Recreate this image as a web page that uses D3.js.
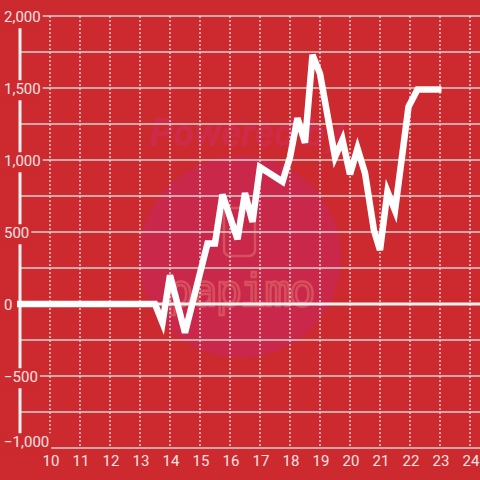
<!DOCTYPE html>
<html>
<head>
<meta charset="utf-8">
<script src="https://cdn.jsdelivr.net/npm/d3@7"></script>
<style>
  body { margin: 0; background: #cc2a2f; }
  svg text { font-family: Roboto, "Liberation Sans", sans-serif; }
</style>
</head>
<body>
<svg id="viz" width="480" height="480"></svg>
<script>
// hours of the day and running value
const hours = [8.9, 13.5, 13.75, 14, 14.5, 15.25, 15.5, 15.75, 16.25, 16.5, 16.75, 17, 17.75, 18, 18.25, 18.5, 18.75, 19,
    19.5, 19.75, 20, 20.25, 20.5, 20.8, 21, 21.25, 21.5, 21.95, 22.25, 23.05]
const values = [0, 0, -130, 200, -200, 420, 420, 760, 450, 770, 570, 950, 850, 1020, 1290, 1120, 1730, 1600,
    1020, 1140, 900, 1080, 910, 510, 375, 780, 650, 1370, 1490, 1490]

const x_ticks = [10, 11, 12, 13, 14, 15, 16, 17, 18, 19, 20, 21, 22, 23, 24]
const y_grid = [-1000, -750, -500, -250, 250, 500, 750, 1000, 1250, 1500, 1750, 2000]
const y_labels = [-1000, -500, 0, 500, 1000, 1500, 2000]

const bg = "#cc2a2f";

let svg = d3.select("#viz");
let width = parseInt(svg.attr("width"));

let x = d3.scaleLinear().domain([10, 24]).range([50, 470]);
let y = d3.scaleLinear().domain([-1000, 2000]).range([448, 16]);

svg.append("rect").attr("width", 480).attr("height", 480).attr("fill", bg);

// watermark
let wm = svg.append("g").attr("id", "watermark");
wm.append("circle").attr("cx", 240).attr("cy", 257).attr("r", 101).attr("fill", "#c9284a");
wm.append("text").text("Powered by")
    .attr("x", 150).attr("y", 146)
    .style("font-size", "38px").style("font-weight", "bold").style("font-style", "italic")
    .attr("fill", "#cf2a48");
wm.append("rect").attr("x", 224).attr("y", 208).attr("width", 31).attr("height", 48).attr("rx", 6)
    .attr("fill", "none").attr("stroke", "#d8505e").attr("stroke-width", 2.5);
wm.append("text").text("papimo")
    .attr("x", 240).attr("y", 306).attr("text-anchor", "middle")
    .style("font-family", "'DejaVu Sans Mono', monospace").style("font-size", "44px")
    .style("letter-spacing", "-2px")
    .attr("fill", "none").attr("stroke", "#d8505e").attr("stroke-width", 2.5);

// horizontal grid
svg.append("g").selectAll("line")
    .data(y_grid)
    .join("line")
    .attr("x1", 20).attr("x2", width)
    .attr("y1", d => y(d)).attr("y2", d => y(d))
    .attr("stroke", "#d2d2d2").attr("stroke-width", 1.5);

// vertical dotted grid
svg.append("g").selectAll("line")
    .data(x_ticks)
    .join("line")
    .attr("x1", d => x(d)).attr("x2", d => x(d))
    .attr("y1", y(2000)).attr("y2", y(-1000))
    .attr("stroke", "#ececec").attr("stroke-width", 1.2)
    .attr("stroke-dasharray", "2,2");

// y axis line and zero line
svg.append("line").attr("x1", 20).attr("x2", 20).attr("y1", y(2000)).attr("y2", y(-1000))
    .attr("stroke", "#f2f2f2").attr("stroke-width", 3);
svg.append("line").attr("x1", 17).attr("x2", width).attr("y1", y(0)).attr("y2", y(0))
    .attr("stroke", "#f2f2f2").attr("stroke-width", 3);

// y labels with a background box, the bottom one lifted to stay clear of the x labels
let fmt = d3.format(",");
let yl = svg.append("g").selectAll("g")
    .data(y_labels)
    .join("g");
yl.append("text")
    .attr("x", 4).attr("y", d => d == -1000 ? y(d) - 6 : y(d) + 1)
    .attr("dy", "0.35em")
    .style("font-size", "15px")
    .attr("fill", "#f8e2e2")
    .text(d => fmt(d));
yl.each(function () {
    let g = d3.select(this);
    let b = g.select("text").node().getBBox();
    g.insert("rect", "text")
        .attr("x", 0).attr("y", b.y)
        .attr("width", b.x + b.width + 2).attr("height", b.height + 2)
        .attr("fill", bg);
});

// x labels
svg.append("g").selectAll("text")
    .data(x_ticks)
    .join("text")
    .attr("x", d => x(d) + 1).attr("y", 461)
    .attr("dy", "0.35em")
    .attr("text-anchor", "middle")
    .style("font-size", "15px")
    .attr("fill", "#f8e2e2")
    .text(d => d);

// data line
let line = d3.line().x(d => x(d[0])).y(d => y(d[1]));
svg.append("path")
    .datum(hours.map((h, i) => [h, values[i]]))
    .attr("d", line)
    .attr("fill", "none")
    .attr("stroke", "#ffffff")
    .attr("stroke-width", 6.5)
    .attr("stroke-linejoin", "miter");
</script>
</body>
</html>
